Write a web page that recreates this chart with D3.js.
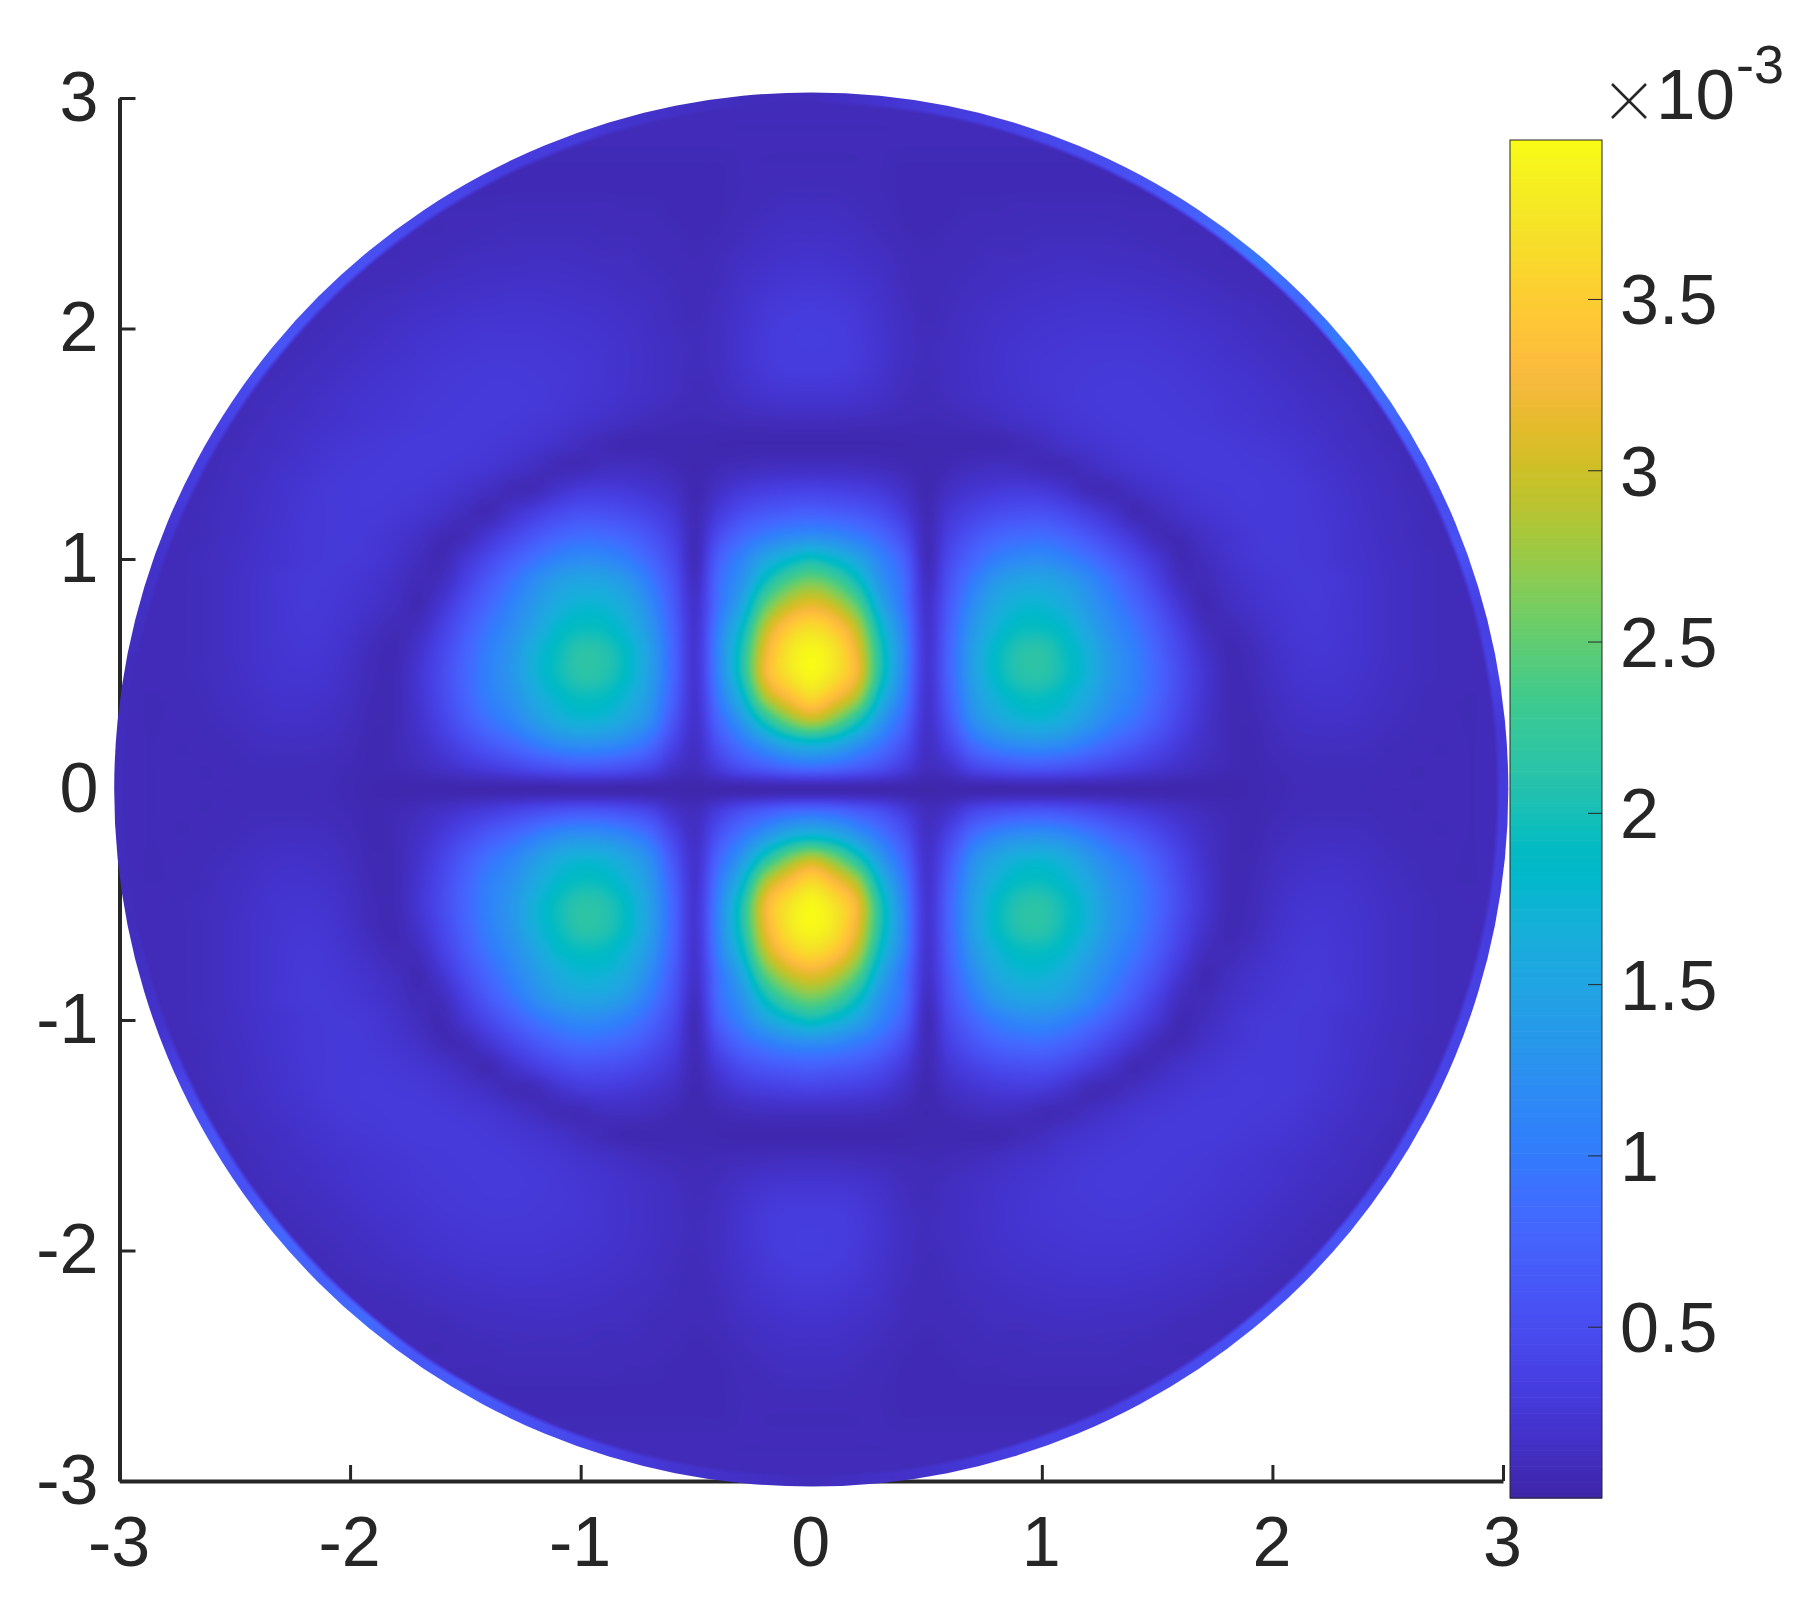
<!DOCTYPE html>
<html><head><meta charset="utf-8">
<script src="https://cdn.jsdelivr.net/npm/d3@7"></script>
<style>html,body{margin:0;padding:0;background:#fff}svg{display:block}
text{font-family:"Liberation Sans",Arial,sans-serif;fill:#262626}</style></head>
<body><svg id="c" width="1806" height="1602"></svg>
<script>
// Values in units of 1e-3; one quadrant, rows y=0,0.1,..; columns x=0,0.1,..; mirrored on both axes
const gridStep = 0.1;
const densityRows = [
[.03,.03,.03,.03,.03,.02,.03,.03,.03,.03,.03,.03,.03,.03,.03,.03,.03,.03,.03,.04,.06,.08,.09,.09,.09,.08,.08,.08,.08,.08,.09,.1],
[.9,.84,.7,.55,.33,.12,.2,.44,.56,.63,.65,.6,.52,.42,.33,.25,.17,.11,.07,.05,.07,.09,.1,.1,.1,.09,.08,.08,.08,.08,.09,.1],
[1.75,1.62,1.3,.95,.58,.16,.42,.85,1.1,1.22,1.25,1.17,1,.8,.64,.46,.29,.16,.08,.05,.09,.12,.13,.13,.12,.1,.09,.08,.08,.08,.09,.1],
[2.9,2.6,2.05,1.35,.8,.2,.6,1.2,1.5,1.68,1.72,1.6,1.36,1.1,.9,.65,.4,.2,.08,.06,.11,.15,.17,.17,.15,.12,.1,.09,.08,.08,.09,.1],
[3.6,3.3,2.8,1.75,1,.22,.72,1.34,1.7,1.9,1.93,1.8,1.55,1.25,1.04,.75,.46,.23,.08,.07,.13,.18,.2,.2,.17,.14,.11,.09,.08,.08,.09,.1],
[3.92,3.7,3.2,2.05,1.12,.24,.78,1.42,1.85,2.08,2.12,1.95,1.68,1.32,1.08,.78,.48,.24,.08,.08,.15,.21,.23,.22,.19,.15,.12,.1,.09,.08,.09,.1],
[3.92,3.72,3.15,2.05,1.15,.24,.78,1.42,1.85,2.08,2.12,1.93,1.66,1.3,1.05,.74,.44,.2,.07,.09,.17,.23,.25,.23,.2,.16,.12,.1,.09,.08,.09,.1],
[3.65,3.45,2.9,1.85,1.08,.22,.74,1.32,1.7,1.9,1.92,1.8,1.5,1.2,.95,.65,.36,.13,.08,.13,.2,.25,.26,.24,.2,.16,.12,.1,.09,.08,.09,.1],
[3.15,2.95,2.45,1.55,.92,.2,.66,1.18,1.55,1.72,1.74,1.6,1.35,1.08,.8,.52,.24,.07,.12,.18,.23,.26,.27,.24,.2,.16,.12,.1,.09,.08,.09,.1],
[2.6,2.4,1.95,1.3,.86,.15,.58,1,1.34,1.5,1.52,1.42,1.2,.92,.65,.37,.13,.08,.15,.21,.25,.27,.27,.25,.2,.16,.12,.1,.09,.08,.09,.1],
[1.95,1.78,1.5,1.1,.72,.1,.47,.78,1.02,1.15,1.18,1.08,.9,.68,.45,.24,.07,.11,.19,.25,.27,.27,.26,.22,.19,.15,.12,.1,.08,.08,.09,.1],
[1.2,1.14,1,.8,.5,.09,.36,.58,.75,.83,.85,.76,.6,.42,.24,.09,.08,.16,.22,.26,.28,.27,.26,.22,.18,.14,.11,.09,.08,.08,.09,.1],
[.72,.68,.62,.5,.3,.07,.25,.38,.48,.53,.54,.46,.33,.2,.07,.11,.18,.23,.26,.28,.28,.27,.25,.21,.17,.13,.11,.09,.08,.08,.09,.1],
[.38,.36,.33,.27,.16,.05,.15,.22,.27,.3,.28,.2,.09,.08,.14,.2,.24,.27,.28,.29,.28,.27,.24,.2,.16,.13,.1,.09,.08,.08,.09,.1],
[.13,.13,.12,.1,.07,.04,.07,.11,.13,.12,.08,.08,.13,.19,.24,.26,.28,.29,.29,.28,.27,.25,.21,.18,.14,.12,.09,.08,.08,.08,.09,.1],
[.04,.04,.04,.04,.04,.05,.05,.05,.05,.08,.12,.18,.22,.25,.27,.29,.29,.29,.28,.26,.25,.22,.19,.15,.13,.1,.09,.08,.08,.08,.09,.1],
[.11,.11,.1,.09,.08,.07,.08,.1,.13,.17,.2,.24,.26,.28,.29,.29,.28,.27,.25,.24,.21,.19,.16,.14,.11,.09,.08,.08,.08,.08,.09,.1],
[.22,.22,.2,.16,.11,.09,.12,.15,.18,.21,.24,.26,.28,.29,.29,.28,.27,.26,.24,.22,.2,.17,.14,.12,.1,.09,.08,.08,.08,.08,.09,.1],
[.29,.29,.26,.2,.13,.1,.13,.16,.19,.22,.25,.26,.27,.28,.28,.27,.26,.24,.22,.2,.17,.14,.12,.1,.09,.08,.08,.08,.08,.08,.09,.1],
[.32,.31,.28,.22,.14,.11,.13,.16,.19,.22,.24,.25,.26,.26,.26,.25,.24,.22,.19,.17,.14,.12,.1,.09,.08,.08,.08,.08,.08,.08,.09,.1],
[.32,.31,.27,.21,.14,.1,.12,.15,.18,.2,.22,.23,.24,.24,.24,.23,.21,.19,.17,.14,.12,.1,.09,.08,.08,.08,.08,.08,.08,.08,.09,.1],
[.29,.28,.25,.19,.13,.09,.11,.14,.16,.18,.19,.2,.21,.21,.2,.19,.17,.16,.13,.12,.1,.09,.08,.08,.08,.08,.08,.08,.08,.08,.09,.1],
[.25,.24,.21,.17,.11,.09,.1,.12,.13,.15,.16,.17,.17,.17,.16,.15,.14,.12,.1,.09,.08,.08,.08,.08,.08,.08,.08,.09,.09,.09,.1,.1],
[.2,.19,.17,.14,.1,.08,.09,.1,.12,.12,.13,.14,.14,.13,.13,.12,.1,.09,.08,.08,.08,.08,.08,.08,.08,.08,.09,.09,.1,.1,.1,.1],
[.16,.16,.14,.11,.08,.07,.08,.09,.1,.1,.11,.11,.11,.11,.1,.09,.08,.08,.08,.08,.08,.08,.08,.08,.09,.09,.1,.1,.1,.1,.1,.1],
[.13,.13,.11,.09,.07,.07,.07,.08,.08,.09,.09,.09,.09,.09,.08,.08,.08,.08,.08,.08,.08,.08,.09,.09,.1,.1,.1,.1,.1,.1,.1,.1],
[.1,.1,.09,.08,.07,.07,.07,.07,.07,.07,.07,.07,.07,.07,.07,.07,.07,.07,.08,.08,.08,.09,.1,.1,.1,.1,.1,.1,.1,.1,.1,.1],
[.08,.08,.08,.08,.07,.07,.07,.07,.07,.07,.07,.07,.07,.07,.07,.07,.07,.08,.08,.08,.09,.1,.1,.1,.1,.1,.1,.1,.1,.1,.1,.1],
[.08,.08,.08,.08,.08,.08,.08,.08,.08,.08,.08,.08,.08,.08,.08,.08,.08,.08,.09,.1,.1,.1,.1,.1,.1,.1,.1,.1,.1,.1,.1,.1],
[.08,.08,.08,.08,.08,.08,.08,.08,.08,.08,.08,.08,.08,.08,.08,.08,.09,.1,.1,.1,.1,.1,.1,.1,.1,.1,.1,.1,.1,.1,.1,.1],
[.09,.09,.09,.09,.09,.09,.09,.09,.09,.09,.09,.09,.1,.1,.1,.1,.1,.1,.1,.1,.1,.1,.1,.1,.1,.1,.1,.1,.1,.1,.1,.1],
[.1,.1,.1,.1,.1,.1,.1,.1,.1,.1,.1,.1,.1,.1,.1,.1,.1,.1,.1,.1,.1,.1,.1,.1,.1,.1,.1,.1,.1,.1,.1,.1]
];
// brighter rim of the disc, by angle every 5 degrees counter-clockwise from east
const rimStep = 5;
const rimValues = [.3,.25,.4,.35,.55,.5,.7,.85,1,.8,.95,.75,.6,.5,.45,.35,.3,.2,.1,.1,.15,.2,.3,.3,.4,.45,.55,.5,.6,.45,.35,.3,.2,.15,.1,.1,.1,.1,.1,.15,.2,.4,.6,.55,.8,.7,.85,.6,.7,.55,.45,.3,.2,.15,.1,.15,.2,.3,.4,.35,.45,.5,.6,.5,.6,.45,.5,.4,.4,.35,.3,.3];
const discRadius = 3.023;
const xTicks = [-3,-2,-1,0,1,2,3];
const yTicks = [-3,-2,-1,0,1,2,3];
const barTicks = [0.5,1,1.5,2,2.5,3,3.5];
const valueMax = 3.964;
const parula = [[.2422,.1504,.6603],[.2504,.1650,.7076],[.2578,.1818,.7511],[.2647,.1978,.7952],[.2706,.2147,.8364],[.2751,.2342,.8710],[.2783,.2559,.8991],[.2803,.2782,.9221],[.2813,.3006,.9414],[.2810,.3228,.9579],[.2795,.3447,.9717],[.2760,.3667,.9829],[.2699,.3892,.9906],[.2602,.4123,.9952],[.2440,.4358,.9988],[.2206,.4603,.9973],[.1963,.4847,.9892],[.1834,.5074,.9798],[.1786,.5289,.9682],[.1764,.5499,.9520],[.1687,.5703,.9359],[.1540,.5902,.9218],[.1460,.6091,.9079],[.1380,.6276,.8973],[.1248,.6459,.8883],[.1113,.6635,.8763],[.0952,.6798,.8598],[.0689,.6948,.8394],[.0297,.7082,.8163],[.0036,.7203,.7917],[.0067,.7312,.7660],[.0433,.7411,.7394],[.0964,.7500,.7120],[.1408,.7584,.6842],[.1717,.7670,.6554],[.1938,.7758,.6251],[.2161,.7843,.5923],[.2470,.7918,.5567],[.2906,.7973,.5188],[.3406,.8008,.4789],[.3909,.8029,.4354],[.4456,.8024,.3909],[.5044,.7993,.3480],[.5616,.7942,.3045],[.6174,.7876,.2612],[.6720,.7793,.2227],[.7242,.7698,.1910],[.7738,.7598,.1646],[.8203,.7498,.1535],[.8634,.7406,.1596],[.9035,.7330,.1774],[.9393,.7288,.2100],[.9728,.7298,.2394],[.9956,.7434,.2371],[.9970,.7659,.2199],[.9952,.7893,.2028],[.9892,.8136,.1885],[.9786,.8386,.1766],[.9676,.8639,.1643],[.9610,.8890,.1537],[.9597,.9135,.1423],[.9628,.9373,.1265],[.9691,.9606,.1064],[.9769,.9839,.0805]];

const svg = d3.select('#c');
const x = d3.scaleLinear().domain([-3,3]).range([119.5,1503]);
const y = d3.scaleLinear().domain([-3,3]).range([1481,98]);
const barY = d3.scaleLinear().domain([0,valueMax]).range([1498,140]);
const color = d3.scaleLinear()
  .domain(parula.map((d,i)=>valueMax*i/(parula.length-1)))
  .range(parula.map(c=>d3.rgb(c[0]*255,c[1]*255,c[2]*255).formatRgb()))
  .clamp(true);
const lut = d3.range(1025).map(i=>d3.rgb(color(valueMax*i/1024)));

const FS = 70, INK = '#262626';
// axes (under the image, as in the reference)
const ax = svg.append('g').attr('transform',`translate(0,${y(-3)})`)
  .call(d3.axisBottom(x).tickValues(xTicks).tickFormat(d3.format('d')).tickSize(-16).tickPadding(0).tickSizeOuter(0));
const ay = svg.append('g').attr('transform',`translate(${x(-3)},0)`)
  .call(d3.axisLeft(y).tickValues(yTicks).tickFormat(d3.format('d')).tickSize(-16).tickPadding(0).tickSizeOuter(0));
[ax,ay].forEach(a=>{
  a.selectAll('path').attr('stroke',INK).attr('stroke-width',4).attr('fill','none');
  a.selectAll('line').attr('stroke',INK).attr('stroke-width',3);
  a.selectAll('text').text(d=>String(d)).style('font-size',FS+'px').attr('fill',INK);
});
ax.selectAll('text').attr('y',0).attr('dy',null).attr('text-anchor','middle').attr('transform','translate(-1,85)');
ay.selectAll('text').attr('x',-21).attr('dy',null).attr('text-anchor','end').attr('transform','translate(0,22)');

// field
function cr(p0,p1,p2,p3,t){return p1+0.5*t*(p2-p0+t*(2*p0-5*p1+4*p2-p3+t*(3*(p1-p2)+p3-p0)));}
const nR=densityRows.length,nC=densityRows[0].length;
const at=(r,c)=>densityRows[Math.min(nR-1,Math.abs(r))][Math.min(nC-1,Math.abs(c))];
function field(u,v){
  const fu=Math.abs(u)/gridStep,fv=Math.abs(v)/gridStep;
  const c=Math.floor(fu),r=Math.floor(fv),tu=fu-c,tv=fv-r;
  const row=k=>cr(at(k,c-1),at(k,c),at(k,c+1),at(k,c+2),tu);
  return cr(row(r-1),row(r),row(r+1),row(r+2),tv);
}
function rim(theta){
  const a=((theta*180/Math.PI)+360)%360/rimStep,i=Math.floor(a),t=a-i,n=rimValues.length;
  return rimValues[i%n]*(1-t)+rimValues[(i+1)%n]*t;
}
const px0=Math.floor(x(-discRadius))-2, px1=Math.ceil(x(discRadius))+2;
const py0=Math.floor(y(discRadius))-2, py1=Math.ceil(y(-discRadius))+2;
const cv=document.createElement('canvas');cv.width=px1-px0;cv.height=py1-py0;
const ctx=cv.getContext('2d');const im=ctx.createImageData(cv.width,cv.height);
for(let j=0;j<cv.height;j++){
  const v=y.invert(py0+j+.5);
  for(let i=0;i<cv.width;i++){
    const u=x.invert(px0+i+.5);const rr=Math.hypot(u,v);
    if(rr>discRadius+.03) continue;
    let val=Math.max(0,field(u,v));
    const ramp=Math.max(0,Math.min(1,(rr-(discRadius-.055))/.02));
    if(ramp>0) val=val*(1-ramp)+Math.max(val,rim(Math.atan2(v,u)))*ramp;
    const q=lut[Math.max(0,Math.min(1024,Math.round(val/valueMax*1024)))],k=4*(j*cv.width+i);
    im.data[k]=q.r;im.data[k+1]=q.g;im.data[k+2]=q.b;im.data[k+3]=255;
  }
}
ctx.putImageData(im,0,0);
svg.append('clipPath').attr('id','disc').append('circle')
  .attr('cx',x(0)).attr('cy',y(0)).attr('r',x(discRadius)-x(0));
svg.append('image').attr('x',px0).attr('y',py0).attr('width',cv.width).attr('height',cv.height)
  .attr('href',cv.toDataURL()).attr('clip-path','url(#disc)');

// colour bar
const bx0=1510,bx1=1602;
const levels=d3.range(256).map(i=>valueMax*i/256);
svg.append('g').selectAll('rect').data(levels).join('rect')
  .attr('x',bx0).attr('width',bx1-bx0)
  .attr('y',d=>barY(d+valueMax/256)).attr('height',d=>barY(d)-barY(d+valueMax/256)+.6)
  .attr('fill',d=>color(d+valueMax/512));
svg.append('rect').attr('x',bx0).attr('y',barY(valueMax)).attr('width',bx1-bx0).attr('height',barY(0)-barY(valueMax))
  .attr('fill','none').attr('stroke',INK).attr('stroke-width',1);
const barAxis=svg.append('g').attr('transform',`translate(${bx1},0)`)
  .call(d3.axisRight(barY).tickValues(barTicks).tickFormat(d=>String(d)).tickSize(-14).tickPadding(0).tickSizeOuter(0));
barAxis.select('path').remove();
barAxis.selectAll('line').attr('stroke',INK).attr('stroke-width',1);
barAxis.selectAll('text').attr('x',18).attr('dy',null).attr('text-anchor','start').attr('transform','translate(0,25)')
  .style('font-size',FS+'px').attr('fill',INK);

// exponent
const g=svg.append('g');
g.append('line').attr('x1',1612).attr('y1',84).attr('x2',1646).attr('y2',118).attr('stroke',INK).attr('stroke-width',2.5);
g.append('line').attr('x1',1646).attr('y1',84).attr('x2',1612).attr('y2',118).attr('stroke',INK).attr('stroke-width',2.5);
g.append('text').attr('x',1656).attr('y',119).style('font-size','71px').text('10');
g.append('text').attr('x',1736).attr('y',83).style('font-size','54px').text('-3');
</script></body></html>
